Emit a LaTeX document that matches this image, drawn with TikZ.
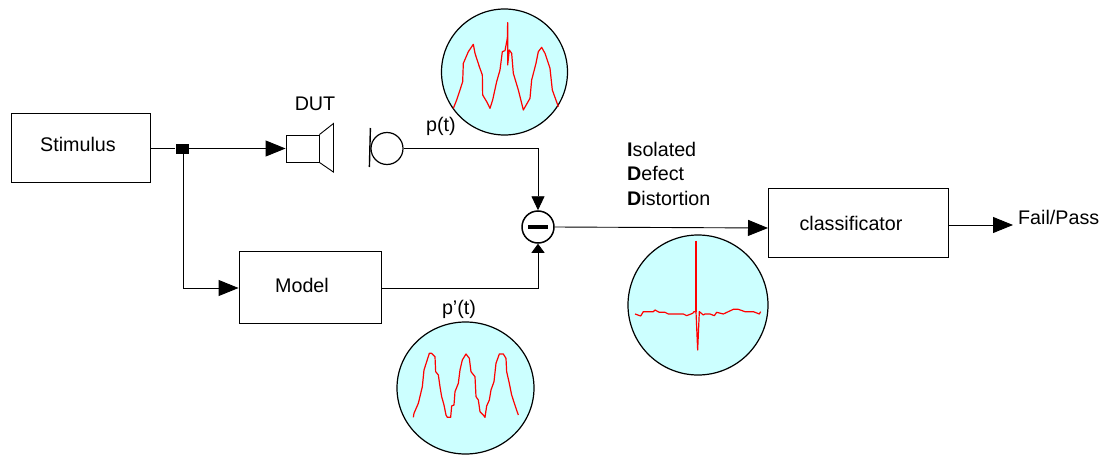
\documentclass[tikz,border=0pt]{standalone}
\usepackage{fontspec}
\setmainfont{Liberation Sans}
\usetikzlibrary{arrows.meta,shapes.geometric}
\definecolor{scopecol}{HTML}{CCFFFF}
\definecolor{tracecol}{HTML}{FF0000}
\tikzset{
  txt/.style={font=\fontsize{19.7}{24.5}\selectfont, inner sep=0pt},
  blockbox/.style={draw, inner sep=0pt, line width=0.9pt},
  scopedisc/.style={draw, ellipse, fill=scopecol, inner sep=0pt, line width=1.2pt},
  trace/.style={draw=tracecol, line width=1.2pt, line join=round},
  wire/.style={line width=0.9pt},
  head/.style={wire, -{Triangle[length=20pt, width=16pt]}},
  headshort/.style={wire, -{Triangle[length=9pt, width=13pt]}},
  headmid/.style={wire, -{Triangle[length=14pt, width=13pt]}}
}
\begin{document}
\begin{tikzpicture}[x=1pt, y=-1pt]
\useasboundingbox (0,0) rectangle (1103,460);
% blocks
\node[blockbox, minimum width=139pt, minimum height=69pt] (stim) at (80.5,147.5) {};
\node[txt] (stimtxt) at (78,144) {Stimulus};
\node[blockbox, minimum width=142pt, minimum height=72pt] (model) at (310,287) {};
\node[txt] (modeltxt) at (302,285) {Model};
\node[blockbox, minimum width=180pt, minimum height=69pt] (classif) at (858,222.5) {};
\node[txt] (classiftxt) at (851,223) {classificator};
\node[fill=black, inner sep=0pt, minimum width=13pt, minimum height=10pt] (jct) at (182,148.5) {};
% speaker and microphone
\node[blockbox, minimum width=33pt, minimum height=27pt] (spk) at (302.5,148.5) {};
\draw[wire] (spk.north east) -- ++(14,-11) -- ++(0,48.5) -- (spk.south east);
\node[draw, circle, inner sep=0pt, minimum size=32pt, line width=1.2pt] (mic) at (387,148.5) {};
\draw[line width=1.4pt] (mic.west) ++(0,-20.5) -- ++(-1,39);
\node[txt] (duttxt) at (315,104) {DUT};
\node[txt] (ptxt) at (441,126) {p(t)};
% subtractor
\node[draw, circle, fill=white, inner sep=0pt, minimum size=32pt, line width=1.5pt] (minus) at (538,227) {};
\draw[line width=3.4pt] (minus.center) ++(-10,0) -- ++(20,0);
% connectors
\draw[wire] (jct -| stim.east) -- (jct);
\draw[head] (jct) -- (spk.west);
\coordinate (mbend) at (183,288);
\draw[wire] (mbend |- jct) -- (mbend);
\draw[head] (mbend) -- (mbend -| model.west);
\draw[headmid] (mic.east) -| (minus.north);
\draw[headshort] (model.east |- mbend) -| (minus.south);
\coordinate (cin) at (768,228);
\draw[head] (minus.east) -- (cin);
\coordinate (cout) at (1013,225);
\draw[head] (classif.east |- cout) -- (cout);
\node[txt, anchor=west] (failtxt) at (1018,217) {Fail/Pass};
% scopes
\node[scopedisc, minimum width=126pt, minimum height=126pt] (scopep) at (504.5,72) {};
\begin{scope}[shift={(430,10)}, x=0.3333pt, y=-0.3333pt]
\draw[trace] plot coordinates {(70,295)(80,270)(90,240)(98,215)(100,160)(115,125)(130,103)(135,130)(148,170)(157,195)(158,255)(170,275)(180,295)(188,270)(200,215)(210,180)(217,125)(225,122)(232,85)(233,38)(233,165)(238,120)(245,130)(250,190)(265,240)(280,300)(300,265)(305,210)(318,160)(325,125)(335,112)(345,130)(360,175)(367,240)(385,290)};
\end{scope}
\node[scopedisc, minimum width=137pt, minimum height=132pt] (scopem) at (465.5,388) {};
\begin{scope}[shift={(390,320)}, x=0.3333pt, y=-0.3333pt]
\draw[trace] plot coordinates {(70,292)(72,280)(85,250)(97,200)(102,150)(110,125)(118,100)(125,100)(135,110)(137,155)(145,165)(150,200)(155,230)(162,255)(168,285)(172,292)(182,292)(185,258)(192,255)(195,215)(205,190)(210,150)(217,120)(228,102)(238,115)(243,155)(255,170)(258,230)(265,240)(270,275)(280,285)(285,292)(290,258)(298,240)(303,210)(312,185)(318,130)(328,102)(340,102)(348,115)(350,155)(358,190)(365,225)(378,265)(385,285)};
\end{scope}
\node[scopedisc, minimum width=140pt, minimum height=140pt] (scoped) at (698,305) {};
\begin{scope}[shift={(620,230)}, x=0.3333pt, y=-0.3333pt]
\draw[trace] plot coordinates {(45,252)(62,258)(70,245)(100,245)(105,240)(118,247)(135,247)(145,252)(190,252)(200,257)(218,250)(222,245)(228,245)(233,360)(238,245)(250,255)(255,252)(270,252)(283,257)(290,247)(310,252)(340,238)(355,238)(375,245)(400,245)(418,252)(422,245)};
\draw[trace, line width=2.2pt] (228,32) -- (228,245);
\end{scope}
\node[txt] (pmtxt) at (459,309) {p'(t)};
\node[txt, anchor=north west, align=left] (idd) at (627,142) {\textbf{I}solated\\\textbf{D}efect\\\textbf{D}istortion};
\end{tikzpicture}
\end{document}
